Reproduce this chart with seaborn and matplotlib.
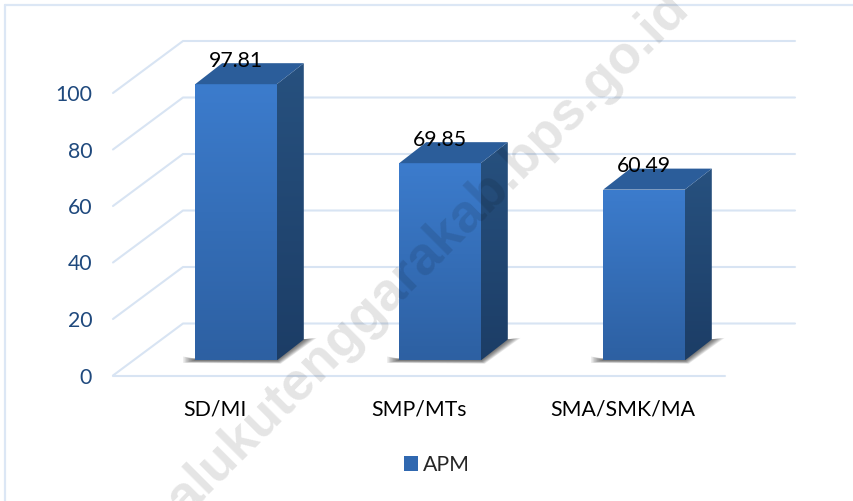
import numpy as np
import matplotlib
matplotlib.use("Agg")
import matplotlib.pyplot as plt
from matplotlib.patches import Polygon, Patch
from matplotlib.lines import Line2D
from matplotlib.transforms import IdentityTransform
import seaborn as sns

categories = ["SD/MI", "SMP/MTs", "SMA/SMK/MA"]
apm_values = [97.81, 69.85, 60.49]
y_ticks = [0, 20, 40, 60, 80, 100]
series_name = "APM"
watermark = "palukutenggarakab.bps.go.id"

W, H = 854, 501
sns.set_theme(style="white")
plt.rcParams["font.family"] = ["Lato", "DejaVu Sans"]
fig = plt.figure(figsize=(W / 100, H / 100), dpi=100)
fig.patch.set_facecolor("white")

# axes = front plane of the 3D box, in pixels
L, R, B, T = 113, 725, 375.5, 93
ax = fig.add_axes([L / W, 1 - B / H, (R - L) / W, (B - T) / H])
ax.patch.set_alpha(0)
sns.barplot(x=categories, y=apm_values, width=0.4, color="#3b7bcb", ax=ax, saturation=1)
ax.set_xlim(-0.5, 2.5)
ax.set_ylim(0, 100)
ax.set_yticks(y_ticks)
for s in ax.spines.values():
    s.set_visible(False)
ax.tick_params(axis="both", length=0)
ax.tick_params(axis="y", labelsize=15.3, labelcolor="#1f497d", pad=15)
ax.tick_params(axis="x", labelsize=15.3, labelcolor="black", pad=17.5)
for lab in ax.get_yticklabels():
    lab.set_va("center_baseline")
ax.set_xlabel("")
ax.set_ylabel("")

idt = IdentityTransform()
DX_WALL, DY_WALL = 70, 52
GRID = "#d8e4f3"
fig.canvas.draw()

def to_px(x, y):
    return ax.transData.transform((x, y))

# frame, partly visible on the left and top
fig.add_artist(Line2D([5, 5], [0, H - 5], transform=idt, color="#dce7f5", lw=1.6))
fig.add_artist(Line2D([5, W], [H - 5, H - 5], transform=idt, color="#dce7f5", lw=1.6))

# walls and floor lines
for t in y_ticks:
    x0, y0 = to_px(-0.5, t)
    x1, y1 = x0 + DX_WALL, y0 + DY_WALL
    x2 = to_px(2.5, t)[0] + DX_WALL
    ax.add_line(Line2D([x0, x1, x2], [y0, y1, y1], transform=idt, color=GRID, lw=1.5, zorder=0.5, clip_on=False))
x0, y0 = to_px(-0.5, 0)
ax.add_line(Line2D([x0, to_px(2.5, 0)[0]], [y0, y0], transform=idt, color=GRID, lw=1.5, zorder=0.5, clip_on=False))

def gradient(verts, top, bottom, z):
    """Vertical colour ramp clipped to a pixel polygon."""
    verts = np.asarray(verts)
    a, b = np.array(matplotlib.colors.to_rgb(top)), np.array(matplotlib.colors.to_rgb(bottom))
    ramp = np.linspace(0, 1, 256)[:, None, None] * (b - a) + a
    xmin, ymin = verts.min(axis=0)
    xmax, ymax = verts.max(axis=0)
    im = ax.imshow(ramp, extent=[xmin, xmax, ymin, ymax], origin="upper", aspect="auto",
                   transform=idt, zorder=z)
    poly = Polygon(verts, closed=True, transform=idt, fc="none", ec="none", clip_on=False)
    ax.add_patch(poly)
    im.set_clip_path(poly)
    im.set_clip_box(fig.bbox)

BAR_DX, BAR_DY = 21, 15
DEPTH_X, DEPTH_Y = 27, 21
bars = list(ax.patches)
for bar, v, cat in zip(bars, apm_values, categories):
    (xl, yb), (xr, yt) = ax.transData.transform(
        [(bar.get_x(), 0), (bar.get_x() + bar.get_width(), bar.get_height())])
    xl, xr = xl + BAR_DX, xr + BAR_DX
    yb, yt = yb + BAR_DY, yt + BAR_DY
    bar.set_visible(False)
    # soft floor shadow
    for k in range(8):
        g = 8 - k
        ax.add_patch(Polygon([(xl - 1.5 * g, yb + 0.5 * g), (xl - 1.5 * g, yb - 0.3 * g),
                              (xr + 0.5 * g, yb - 0.4 * g),
                              (xr + DEPTH_X + 1.6 * g, yb + DEPTH_Y + 0.2 * g),
                              (xr + DEPTH_X - 4, yb + DEPTH_Y), (xr, yb + 2), (xl, yb + 2)],
                             closed=True, transform=idt, fc="black", ec="none", alpha=0.085,
                             zorder=1, clip_on=False))
    gradient([(xl, yb), (xr, yb), (xr, yt), (xl, yt)], "#3c7ccd", "#2d60a2", 3)
    gradient([(xr, yb), (xr + DEPTH_X, yb + DEPTH_Y), (xr + DEPTH_X, yt + DEPTH_Y), (xr, yt)],
             "#27517f", "#1c3d66", 3)
    ax.add_patch(Polygon([(xl, yt), (xr, yt), (xr + DEPTH_X, yt + DEPTH_Y), (xl + DEPTH_X, yt + DEPTH_Y)],
                         closed=True, transform=idt, fc="#2b5d9a", ec="none", zorder=3, clip_on=False))
    ax.annotate(f"{v:.2f}", xy=(bar.get_x() + bar.get_width() / 2, v), xytext=(BAR_DX, 38.5),
                textcoords="offset pixels", ha="center", va="center", fontsize=15.3, color="black", zorder=5,
                annotation_clip=False)

ax.set_xlim(-0.5, 2.5)
ax.set_ylim(0, 100)
ax.set_aspect("auto")

ax.legend(handles=[Patch(fc="#3068b0", ec="none", label=series_name)], loc="center",
          bbox_to_anchor=(437 / W, 1 - 465 / H), bbox_transform=fig.transFigure, frameon=False,
          fontsize=15.3, handlelength=0.68, handleheight=0.68, handletextpad=0.25, borderpad=0)

# watermark lies over everything as a translucent stamp; it runs off the picture at both ends
fig.text(162, H - 538, watermark, transform=idt, fontsize=38.7, fontweight="bold", color="black", alpha=0.105,
         rotation=45, rotation_mode="anchor", ha="left", va="baseline", zorder=10,
         family=["Liberation Sans", "DejaVu Sans"])

fig.savefig("out.png", dpi=100)
